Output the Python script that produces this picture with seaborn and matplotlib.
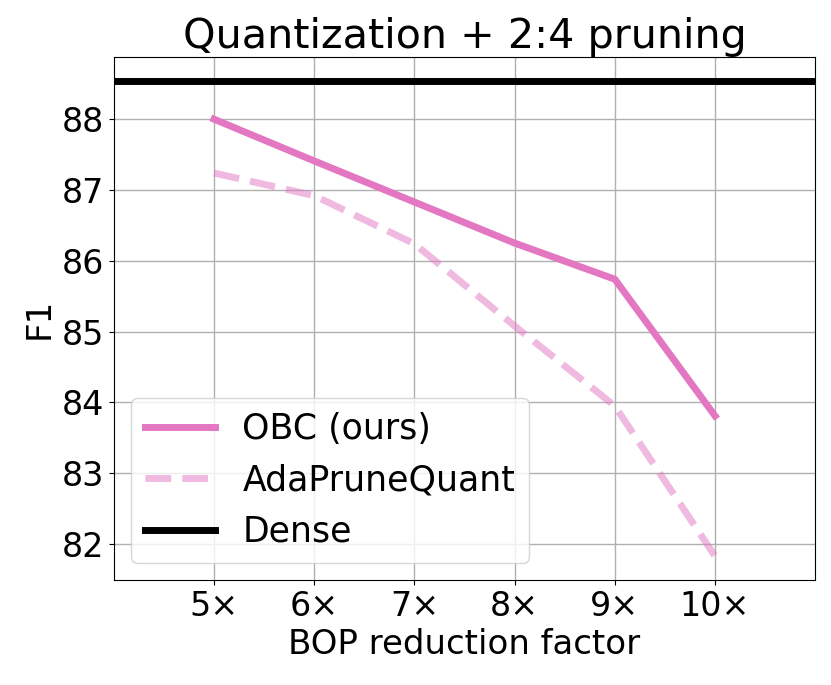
import numpy as np
import pandas as pd
import matplotlib
matplotlib.use("Agg")
import matplotlib.pyplot as plt
import seaborn as sns

factors = [5, 6, 7, 8, 9, 10]
tick_labels = ["5×", "6×", "7×", "8×", "9×", "10×"]
obc = [88.00, 87.41, 86.83, 86.25, 85.74, 83.81]
adaprune = [87.24, 86.92, 86.24, 85.08, 83.95, 81.83]
dense = 88.54

df = pd.DataFrame({"factor": factors, "OBC (ours)": obc, "AdaPruneQuant": adaprune})

plt.rcParams["font.size"] = 24
fig, ax = plt.subplots(figsize=(8.31, 6.85), dpi=100)
fig.subplots_adjust(left=0.137, right=0.981, top=0.917, bottom=0.153)

sns.lineplot(data=df, x="factor", y="OBC (ours)", color="#e377c2", linewidth=5,
             label="OBC (ours)", ax=ax)
sns.lineplot(data=df, x="factor", y="AdaPruneQuant", color="#e377c2", alpha=0.5,
             linewidth=5, linestyle="--", label="AdaPruneQuant", ax=ax)
ax.axhline(dense, color="black", linewidth=5, label="Dense")

ax.set_xlim(4, 11)
ax.set_ylim(81.49, 88.88)
ax.set_xticks(factors)
ax.set_xticklabels(tick_labels)
ax.set_yticks(range(82, 89))
ax.tick_params(labelsize=24)
ax.grid(True, color="#b0b0b0", linewidth=1)
ax.set_xlabel("BOP reduction factor", fontsize=24.5)
ax.set_ylabel("F1", fontsize=24.5)
ax.set_title("Quantization + 2:4 pruning", fontsize=29.7)
ax.legend(loc="lower left", fontsize=25)

fig.savefig("out.png", dpi=100)
